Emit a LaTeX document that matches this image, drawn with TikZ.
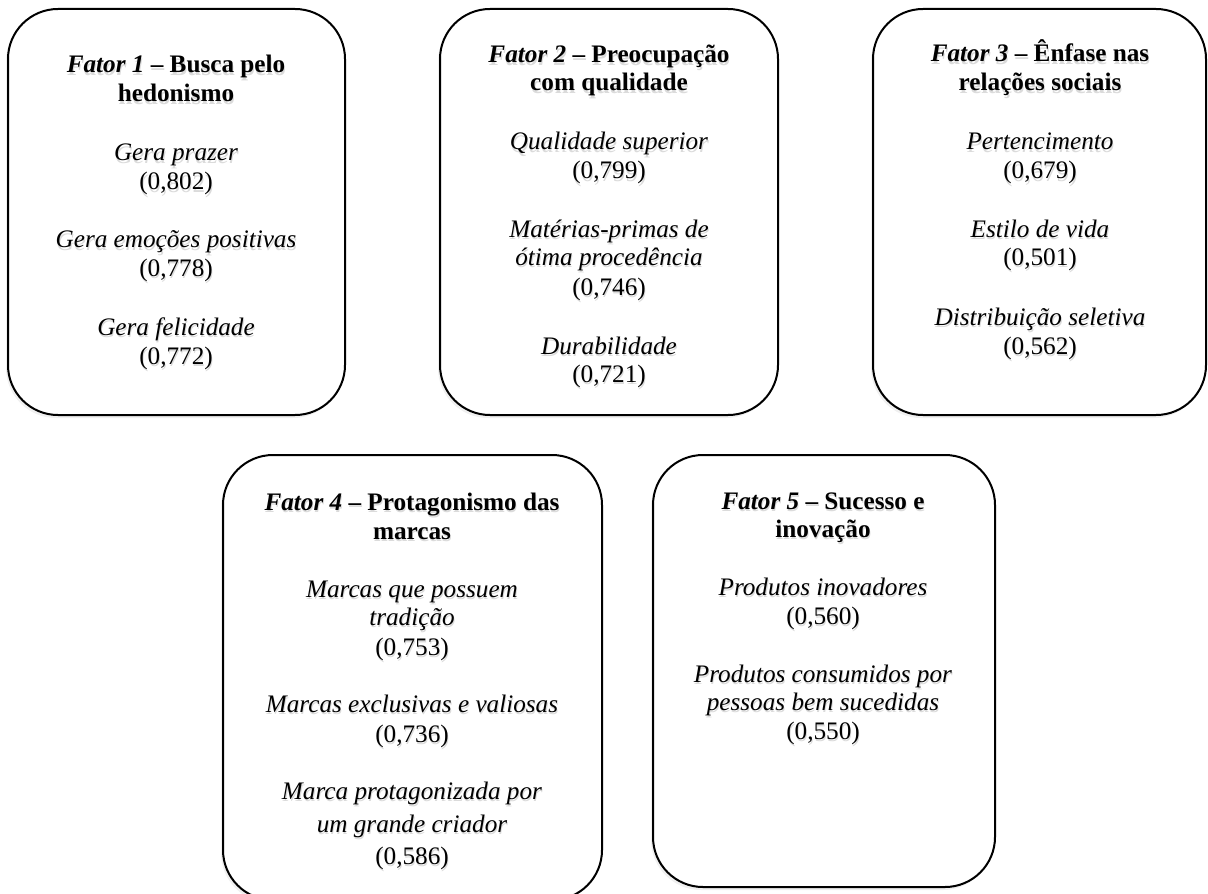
\documentclass[tikz,border=0pt]{standalone}
\usepackage{fontspec}
\setmainfont{Liberation Serif}
\usetikzlibrary{shadows}
\newcommand{\shtxt}[1]{\leavevmode\rlap{\hspace{0.4pt}\raisebox{-1.3pt}{\color{black!14}#1}}#1}
\tikzset{
  fbox/.style={draw=black, line width=1pt, rounded corners=25pt, fill=white,
    drop shadow={opacity=0.12, shadow xshift=-1pt, shadow yshift=-1.5pt}},
  ln/.style={anchor=base, font=\fontsize{12.6}{14}\selectfont, inner sep=0pt, yshift=-1pt},
}
\begin{document}
\begin{tikzpicture}[x=0.5pt,y=-0.5pt]
\useasboundingbox (0,0) rectangle (1208,893);
% boxes
\node[fbox, minimum width=168.5pt, minimum height=203pt] (b1) at (176.5,212) {};
\node[fbox, minimum width=169pt, minimum height=203pt] (b2) at (609,212) {};
\node[fbox, minimum width=166.5pt, minimum height=203pt] (b3) at (1039.5,212) {};
\node[fbox, minimum width=189.5pt, minimum height=222.5pt] (b4) at (412.5,677.5) {};
\node[fbox, minimum width=171pt, minimum height=216pt] (b5) at (824,671) {};
% box 1
\node[ln] (t1a) at (176,71) {\shtxt{\textbf{\textit{Fator 1} – Busca pelo}}};
\node[ln] (t1b) at (176,100) {\shtxt{\textbf{hedonismo}}};
\node[ln] (i1a) at (176,159) {\shtxt{\textit{Gera prazer}}};
\node[ln] (v1a) at (176,188) {\shtxt{(0,802)}};
\node[ln] (i1b) at (176,246) {\shtxt{\textit{Gera emoções positivas}}};
\node[ln] (v1b) at (176,274) {\shtxt{(0,778)}};
\node[ln] (i1c) at (176,333) {\shtxt{\textit{Gera felicidade}}};
\node[ln] (v1c) at (176,362) {\shtxt{(0,772)}};
% box 2
\node[ln] (t2a) at (609,61) {\shtxt{\textbf{\textit{Fator 2} – Preocupação}}};
\node[ln] (t2b) at (609,89) {\shtxt{\textbf{com qualidade}}};
\node[ln] (i2a) at (609,148) {\shtxt{\textit{Qualidade superior}}};
\node[ln] (v2a) at (609,177) {\shtxt{(0,799)}};
\node[ln] (i2b) at (609,235) {\shtxt{\textit{Matérias-primas de}}};
\node[ln] (i2c) at (609,263) {\shtxt{\textit{ótima procedência}}};
\node[ln] (v2b) at (609,293) {\shtxt{(0,746)}};
\node[ln] (i2d) at (609,352) {\shtxt{\textit{Durabilidade}}};
\node[ln] (v2c) at (609,380) {\shtxt{(0,721)}};
% box 3
\node[ln] (t3a) at (1040,60) {\shtxt{\textbf{\textit{Fator 3} – Ênfase nas}}};
\node[ln] (t3b) at (1040,89) {\shtxt{\textbf{relações sociais}}};
\node[ln] (i3a) at (1040,148) {\shtxt{\textit{Pertencimento}}};
\node[ln] (v3a) at (1040,177) {\shtxt{(0,679)}};
\node[ln] (i3b) at (1040,235) {\shtxt{\textit{Estilo de vida}}};
\node[ln] (v3b) at (1040,263) {\shtxt{(0,501)}};
\node[ln] (i3c) at (1040,323) {\shtxt{\textit{Distribuição seletiva}}};
\node[ln] (v3c) at (1040,352) {\shtxt{(0,562)}};
% box 4
\node[ln] (t4a) at (412,508) {\shtxt{\textbf{\textit{Fator 4} – Protagonismo das}}};
\node[ln] (t4b) at (412,537) {\shtxt{\textbf{marcas}}};
\node[ln] (i4a) at (412,595) {\shtxt{\textit{Marcas que possuem}}};
\node[ln] (i4b) at (412,623) {\shtxt{\textit{tradição}}};
\node[ln] (v4a) at (412,653) {\shtxt{(0,753)}};
\node[ln] (i4c) at (412,710) {\shtxt{\textit{Marcas exclusivas e valiosas}}};
\node[ln] (v4b) at (412,740) {\shtxt{(0,736)}};
\node[ln] (i4d) at (412,797) {\shtxt{\textit{Marca protagonizada por}}};
\node[ln] (i4e) at (412,830) {\shtxt{\textit{um grande criador}}};
\node[ln] (v4c) at (412,862) {\shtxt{(0,586)}};
% box 5
\node[ln] (t5a) at (823,507) {\shtxt{\textbf{\textit{Fator 5} – Sucesso e}}};
\node[ln] (t5b) at (823,535) {\shtxt{\textbf{inovação}}};
\node[ln] (i5a) at (823,593) {\shtxt{\textit{Produtos inovadores}}};
\node[ln] (v5a) at (823,622) {\shtxt{(0,560)}};
\node[ln] (i5b) at (823,680) {\shtxt{\textit{Produtos consumidos por}}};
\node[ln] (i5c) at (823,708) {\shtxt{\textit{pessoas bem sucedidas}}};
\node[ln] (v5b) at (823,737) {\shtxt{(0,550)}};
\end{tikzpicture}
\end{document}
